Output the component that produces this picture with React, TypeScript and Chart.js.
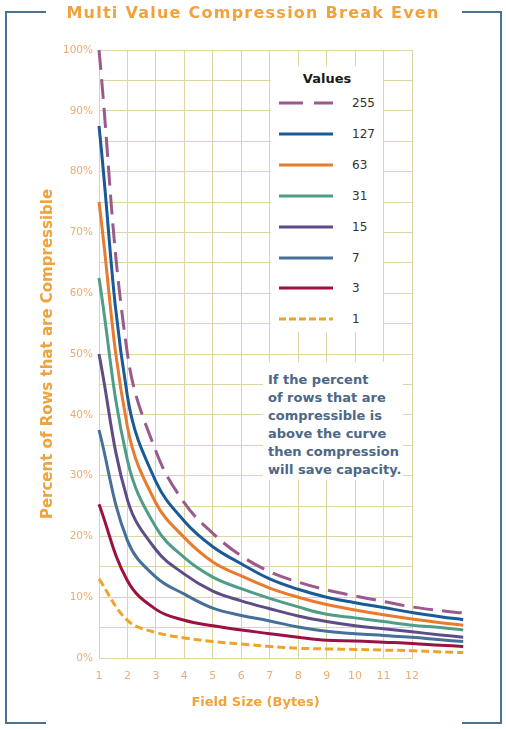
import React, { useEffect, useRef } from 'react';
import { Chart, registerables } from 'chart.js';

Chart.register(...registerables);

// ---------- data ----------
const FIELD_SIZES = [1, 2, 3, 4, 5, 6, 7, 8, 9, 10, 11, 12, 13, 13.8];
const X_TICK_MIN = 1;
const X_TICK_MAX = 12;
const Y_TICK_STEP = 5;

const SERIES_LABELS = ['255', '127', '63', '31', '15', '7', '3', '1'];

const VALUES_255 = [100, 50, 34, 25.5, 20.5, 16.8, 14.2, 12.5, 11.2, 10.2, 9.3, 8.4, 7.8, 7.4];
const VALUES_127 = [87.5, 43, 29, 22.5, 18.3, 15.5, 13, 11.3, 10, 9.1, 8.3, 7.5, 6.8, 6.3];
const VALUES_63 = [75, 38, 25.5, 19.8, 15.8, 13.5, 11.5, 10, 8.8, 7.9, 7.1, 6.4, 5.8, 5.4];
const VALUES_31 = [62.5, 32.5, 21.5, 16.5, 13.3, 11.4, 9.8, 8.4, 7.2, 6.6, 6.0, 5.4, 5.0, 4.6];
const VALUES_15 = [50, 26, 17.8, 13.8, 11, 9.4, 8.1, 6.9, 6.0, 5.3, 4.8, 4.3, 3.8, 3.4];
const VALUES_7 = [37.5, 19.3, 13.3, 10.5, 8.2, 7.0, 6.1, 5.1, 4.4, 4.0, 3.7, 3.4, 3.0, 2.7];
const VALUES_3 = [25.3, 12.7, 8.0, 6.2, 5.3, 4.6, 4.0, 3.4, 2.9, 2.8, 2.6, 2.4, 2.1, 1.9];
const VALUES_1 = [13, 6.2, 4.2, 3.3, 2.7, 2.3, 1.9, 1.6, 1.5, 1.4, 1.3, 1.2, 1.0, 0.9];

const SERIES_VALUES = [VALUES_255, VALUES_127, VALUES_63, VALUES_31, VALUES_15, VALUES_7, VALUES_3, VALUES_1];

const SERIES_COLORS = ['#9a5b8c', '#1a5a96', '#e97b2e', '#4f9c89', '#5d4c88', '#44709a', '#9c1044', '#f0a32a'];
const SERIES_DASHES: number[][] = [[20, 9], [], [], [], [], [], [], [8, 4]];
const LEGEND_DASHES = ['24 11', '', '', '', '', '', '', '7 3'];

const TITLE = 'Multi Value Compression Break Even';
const X_TITLE = 'Field Size (Bytes)';
const Y_TITLE = 'Percent of Rows that are Compressible';
const LEGEND_TITLE = 'Values';
const NOTE_LINES = [
  'If the percent',
  'of rows that are',
  'compressible is',
  'above the curve',
  'then compression',
  'will save capacity.',
];

// ---------- styles ----------
const FONT = "'DejaVu Sans', Verdana, sans-serif";
const ORANGE = '#f0a23c';
const TICK_COLOR = '#eaac70';
const GRID_COLOR = '#dcd6a4';
const FRAME_COLOR = '#4b7290';

const frameSeg = (left: number, top: number, width: number, height: number): React.CSSProperties => ({
  position: 'absolute',
  left,
  top,
  width,
  height,
  background: FRAME_COLOR,
});

export default function App() {
  const canvasRef = useRef<HTMLCanvasElement | null>(null);

  useEffect(() => {
    const canvas = canvasRef.current;
    if (!canvas) return;
    const chart = new Chart(canvas, {
      type: 'line',
      data: {
        datasets: SERIES_LABELS.map((label, i) => ({
          label,
          data: FIELD_SIZES.map((x, j) => ({ x, y: SERIES_VALUES[i][j] })),
          borderColor: SERIES_COLORS[i],
          backgroundColor: SERIES_COLORS[i],
          borderWidth: 3,
          borderDash: SERIES_DASHES[i],
          pointRadius: 0,
          fill: false,
          tension: 0.4,
          clip: false as any,
        })),
      },
      options: {
        animation: false,
        responsive: false,
        maintainAspectRatio: false,
        devicePixelRatio: 1,
        layout: { padding: { top: 50, right: 94, bottom: 0, left: 0 } },
        elements: { line: { capBezierPoints: false } },
        plugins: {
          legend: { display: false },
          title: { display: false },
          tooltip: { enabled: false },
        },
        scales: {
          x: {
            type: 'linear',
            min: X_TICK_MIN,
            afterDataLimits: (scale: any) => {
              scale.max = X_TICK_MAX;
            },
            afterFit: (scale: any) => {
              scale.height = 72;
            },
            grid: { color: GRID_COLOR, lineWidth: 1, drawTicks: false },
            border: { display: true, color: GRID_COLOR },
            ticks: {
              stepSize: 1,
              autoSkip: false,
              maxRotation: 0,
              padding: 12,
              color: TICK_COLOR,
              font: { family: FONT, size: 11 },
            },
            title: {
              display: true,
              text: X_TITLE,
              color: ORANGE,
              font: { family: FONT, size: 13, weight: 'bold' },
              padding: { top: 0, bottom: 20 },
            },
          },
          y: {
            min: 0,
            max: 100,
            afterFit: (scale: any) => {
              scale.width = 99;
            },
            grid: { color: GRID_COLOR, lineWidth: 1, drawTicks: false },
            border: { display: true, color: GRID_COLOR },
            ticks: {
              stepSize: Y_TICK_STEP,
              autoSkip: false,
              padding: 6,
              color: TICK_COLOR,
              font: { family: FONT, size: 10.5 },
              callback: (v: any) => (Number(v) % 10 === 0 ? `${v}%` : ''),
            },
            title: {
              display: true,
              text: Y_TITLE,
              color: ORANGE,
              font: { family: FONT, size: 15, weight: 'bold' },
              padding: { top: 39, bottom: 0 },
            },
          },
        },
      },
    });
    return () => chart.destroy();
  }, []);

  return (
    <div
      style={{
        position: 'absolute',
        left: 0,
        top: 0,
        width: 506,
        height: 730,
        background: '#ffffff',
        overflow: 'hidden',
        fontFamily: FONT,
      }}
    >
      <canvas ref={canvasRef} width={506} height={730} style={{ display: 'block', width: 506, height: 730 }} />

      {/* frame */}
      <div style={frameSeg(5, 11, 41, 2)} />
      <div style={frameSeg(462, 11, 40, 2)} />
      <div style={frameSeg(5, 11, 2, 713)} />
      <div style={frameSeg(500, 11, 2, 713)} />
      <div style={frameSeg(5, 722, 41, 2)} />
      <div style={frameSeg(462, 722, 40, 2)} />

      {/* title */}
      <div
        style={{
          position: 'absolute',
          left: 0,
          top: 2,
          width: 506,
          textAlign: 'center',
          color: ORANGE,
          fontWeight: 'bold',
          fontSize: 16,
          letterSpacing: 1.25,
          lineHeight: '22px',
          whiteSpace: 'nowrap',
        }}
      >
        {TITLE}
      </div>

      {/* legend */}
      <div
        style={{
          position: 'absolute',
          left: 271,
          top: 66,
          width: 112,
          height: 266,
          background: '#ffffff',
        }}
      >
        <div
          style={{
            position: 'absolute',
            left: 0,
            top: 4,
            width: 112,
            textAlign: 'center',
            fontWeight: 'bold',
            fontSize: 13,
            lineHeight: '18px',
            color: '#1a1a1a',
          }}
        >
          {LEGEND_TITLE}
        </div>
        {SERIES_LABELS.map((label, i) => (
          <div
            key={label}
            style={{
              position: 'absolute',
              left: 0,
              top: 27 + i * 30.9,
              width: 112,
              height: 20,
            }}
          >
            <svg width={56} height={20} style={{ position: 'absolute', left: 8, top: 0 }}>
              <line
                x1={0}
                y1={10}
                x2={54}
                y2={10}
                stroke={SERIES_COLORS[i]}
                strokeWidth={3}
                strokeDasharray={LEGEND_DASHES[i] || undefined}
              />
            </svg>
            <span
              style={{
                position: 'absolute',
                left: 81,
                top: 1,
                fontSize: 12,
                lineHeight: '18px',
                color: '#333333',
              }}
            >
              {label}
            </span>
          </div>
        ))}
      </div>

      {/* note */}
      <div
        style={{
          position: 'absolute',
          left: 263,
          top: 362,
          width: 140,
          height: 118,
          background: '#ffffff',
          boxSizing: 'border-box',
          paddingLeft: 5,
          paddingTop: 9,
          color: '#4c6886',
          fontWeight: 'bold',
          fontSize: 13,
          lineHeight: '18px',
          whiteSpace: 'nowrap',
        }}
      >
        {NOTE_LINES.map((t) => (
          <div key={t}>{t}</div>
        ))}
      </div>
    </div>
  );
}
